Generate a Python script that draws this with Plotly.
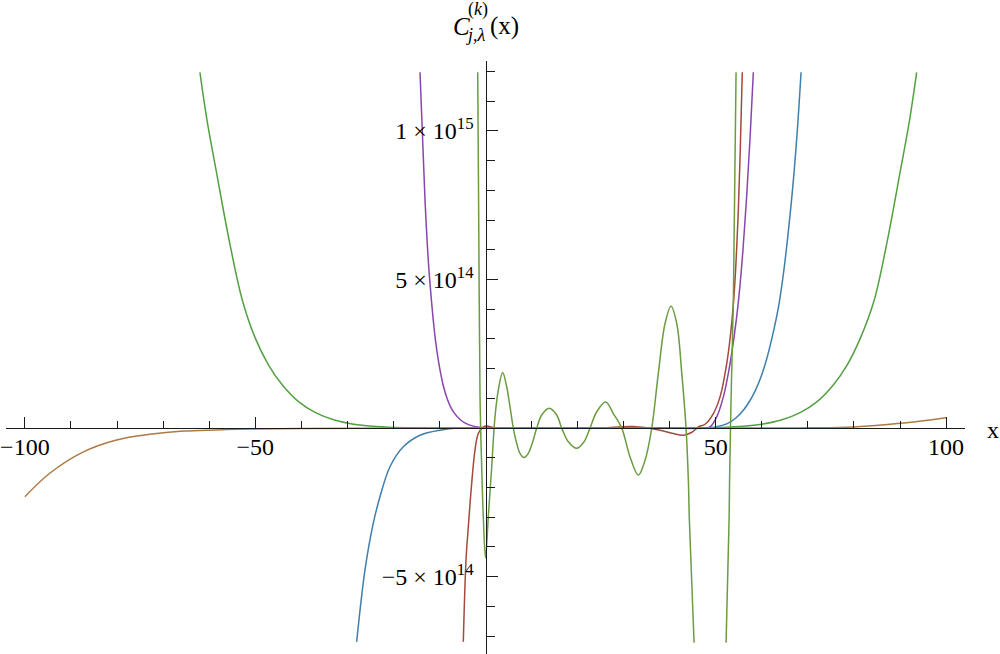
import plotly.graph_objects as go

# values, y in units of 1e14
wide_green_x = [-62.0, -60.4, -58.4, -55.5, -52.8, -50.1, -47.1, -44.1, -40.6, -36.9, -32.8, -28.6, -24.6,
                -19.6, -13.6, -4, 15.7, 35, 45, 51, 56, 60, 64.2, 68.3, 72, 75.5, 78.5, 81.5, 84.4, 87.1,
                90.0, 92.0, 93.6]
wide_green_y = [11.97, 10.3, 8.6, 6.2, 4.31, 3.07, 2.12, 1.45, 0.89, 0.52, 0.27, 0.13, 0.06,
                0.021, 0.006, 0, 0, 0, 0.006, 0.021, 0.06, 0.13, 0.27, 0.52, 0.89, 1.45, 2.12, 3.07, 4.31, 6.2,
                8.6, 10.3, 11.97]

blue_x = [-27.97, -26.17, -24.36, -22.91, -20.74, -17.85, -14.22, -9.88, -5.5, 10, 20, 30, 40, 46.0,
          48, 50, 52.38, 54.3, 55.98, 57.4, 58.6, 59.8, 61.0, 62.3, 63.58, 64.6, 65.6, 66.7, 67.6, 68.51]
blue_y = [-7.19, -4.78, -3.20, -2.31, -1.30, -0.63, -0.24, -0.07, 0, 0, 0, 0, 0, 0,
          0.01, 0.04, 0.14, 0.33, 0.6, 0.92, 1.27, 1.72, 2.3, 3.1, 4.05, 5.1, 6.4, 8.1, 9.8, 11.97]

purple_x = [-14.22, -13.14, -12.4, -11.68, -10.9, -10.1, -9.2, -8.3, -7.5, -6.84, -5.54, -4.4, -3.37, -2.2,
            -1.0, 0, 10, 20, 30, 40, 47.66, 48.75, 50.2, 51.64, 52.9, 54.0, 55.0, 55.9, 56.7, 57.45, 58.15]
purple_y = [11.97, 7.7, 5.6, 4.2, 3.0, 2.15, 1.45, 0.98, 0.69, 0.52, 0.29, 0.17, 0.10, 0.05,
            0.02, 0, 0, 0, 0, 0, 0, 0.04, 0.38, 1.05, 2.0, 3.1, 4.4, 6.0, 7.8, 9.8, 11.97]

red_x = [-4.82, -4.23, -3.73, -3.0, -2.28, -1.56, -0.48, 0.33, 1.69, 5, 15, 25, 32, 37.9, 40.5, 42.95, 44.8,
         46.2, 47.66, 49.47, 50.92, 52.38, 53.3, 54.1, 54.8, 55.3, 55.75]
red_y = [-7.19, -4.44, -3.32, -1.86, -0.74, -0.18, 0.04, 0.07, 0.02, 0, 0, 0, 0.05, -0.07, -0.17, -0.24, -0.14,
         0.04, 0.13, 0.49, 1.05, 2.18, 3.3, 4.8, 7.0, 9.3, 11.97]

wave_x = [-1.69, -1.45, -1.19, -0.83, -0.48, 0, 0.61, 1.35, 2.06, 2.78, 3.73, 4.60, 5.32, 6.04, 6.78, 7.49,
          8.36, 9.29, 10.25, 11.12, 12.2, 13.85, 15.46, 16.55, 17.98, 19.8, 21.39, 22.69, 24.15, 26.1,
          27.75, 29.58, 31.38, 33.18, 34.64, 36.09, 37.52, 38.98, 40.28, 41.52, 42.61, 43.54, 44.04,
          44.26, 45.28, None, 52.23, 52.88, 52.99, 53.31, 53.81, 54.40]
wave_y = [11.97, 6.53, 1.05, -1.30, -2.98, -4.37, -2.98, -1.30, 0.38, 1.28, 1.87, 1.39, 0.72, 0, -0.52, -0.85,
          -0.99, -0.85, -0.46, 0, 0.44, 0.67, 0.44, 0, -0.46, -0.68, -0.46, 0, 0.55, 0.88,
          0.49, 0, -0.97, -1.58, -1.08, 0, 1.84, 3.52, 4.10, 3.52, 1.84, 0, -1.75,
          -3.10, -7.22, None, -7.22, -3.10, -1.75, 0.94, 4.31, 11.97]

brown_x = [-100, -94.6, -87.3, -80.1, -72.9, -65.6, -58.4, -51.1, -40, -20, 0, 20, 40, 60, 70.5, 79.9, 90.0, 100]
brown_y = [-2.31, -1.52, -0.80, -0.40, -0.21, -0.10, -0.06, -0.03, -0.01, 0, 0, 0, 0, 0, 0.01, 0.04, 0.16, 0.35]

x_tick_vals = [-100, -50, 50, 100]
x_tick_text = ["\u2212100", "\u221250", "50", "100"]
x_minor_vals = [-100, -90, -80, -70, -60, -50, -40, -30, -20, -10, 10, 20, 30, 40, 50, 60, 70, 80, 90, 100]
y_tick_vals = [-5, 5, 10]
y_tick_text = ["\u22125 \u00d7 10<sup>14</sup>", "5 \u00d7 10<sup>14</sup>", "1 \u00d7 10<sup>15</sup>"]
y_minor_vals = [-7, -6, -5, -4, -3, -2, -1, 1, 2, 3, 4, 5, 6, 7, 8, 9, 10, 11, 12]

x_range = [-104.1, 104.1]
y_range = [-7.60, 12.35]

serif = "Liberation Serif, Times New Roman, DejaVu Serif, serif"
ink = "#1a1a1a"

fig = go.Figure()
curves = [
    (wide_green_x, wide_green_y, "#52a041"),
    (blue_x, blue_y, "#3f7fab"),
    (purple_x, purple_y, "#8a45ad"),
    (red_x, red_y, "#a24a3b"),
    (wave_x, wave_y, "#6b9c40"),
    (brown_x, brown_y, "#ad7a44"),
]
for xs, ys, col in curves:
    fig.add_trace(go.Scatter(x=xs, y=ys, mode="lines", line=dict(color=col, width=1.5, shape="spline"),
                             connectgaps=False, hoverinfo="skip", showlegend=False))

tick_font = dict(family=serif, size=24, color="black")
fig.update_layout(
    width=1000, height=654,
    margin=dict(l=6, r=35, t=61, b=0),
    font=dict(family=serif, color="black"),
    paper_bgcolor="white", plot_bgcolor="white",
    xaxis=dict(range=x_range, anchor="free", automargin=False,
               position=(0 - y_range[0]) / (y_range[1] - y_range[0]),
               showline=True, linecolor=ink, linewidth=1.2, showgrid=False, zeroline=False,
               ticks="inside", ticklen=11, tickwidth=1, tickcolor=ink,
               tickmode="array", tickvals=x_tick_vals, ticktext=x_tick_text,
               tickfont=tick_font, ticklabelstandoff=-3,
               minor=dict(tickmode="array", tickvals=x_minor_vals, ticks="inside", ticklen=7,
                          tickwidth=1, tickcolor=ink)),
    yaxis=dict(range=y_range, anchor="free", automargin=False,
               position=(0 - x_range[0]) / (x_range[1] - x_range[0]),
               showline=True, linecolor=ink, linewidth=1.2, showgrid=False, zeroline=False,
               ticks="inside", ticklen=11, tickwidth=1, tickcolor=ink,
               tickmode="array", tickvals=y_tick_vals, ticktext=y_tick_text,
               tickfont=tick_font, ticklabelstandoff=7,
               minor=dict(tickmode="array", tickvals=y_minor_vals, ticks="inside", ticklen=8,
                          tickwidth=1, tickcolor=ink)),
)

# axis labels
fig.add_annotation(text="x", xref="paper", x=1, yref="y", y=0, xshift=28, yshift=-2,
                   xanchor="center", yanchor="middle",
                   showarrow=False, font=dict(family=serif, size=24, color="black"))
label_parts = [
    ("<i>C</i>", -24, 35, 25),
    ("(x)", 18.5, 35, 25),
    ("(<i>k</i>)", -7.5, 52, 18),
    ("<i>j</i>,<i>\u03bb</i>", -10, 26, 18),
]
for txt, dx, dy, size in label_parts:
    fig.add_annotation(text=txt, xref="x", x=0, yref="paper", y=1, xshift=dx, yshift=dy,
                       xanchor="center", yanchor="middle",
                       showarrow=False, font=dict(family=serif, size=size, color="black"))

fig.write_html("out.html", config={"displayModeBar": False},
               post_script="document.body.style.margin = '0';")
